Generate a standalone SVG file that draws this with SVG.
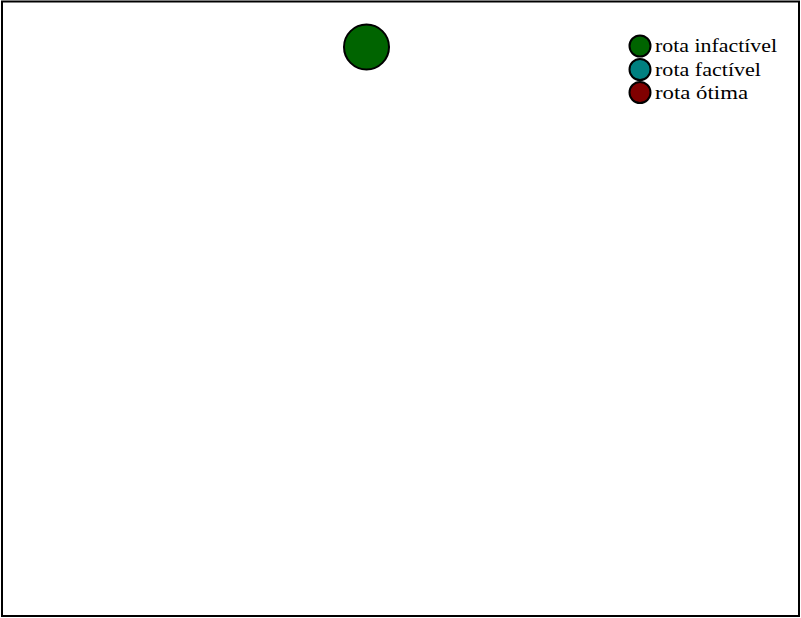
<svg xmlns="http://www.w3.org/2000/svg" width="801" height="618" viewBox="0 0 801 618">
<style>
.n{stroke:#000;stroke-width:2}
.t{font-family:"Liberation Serif","DejaVu Serif",serif;font-size:19px;fill:#000}
</style>
<rect x="0" y="0" width="801" height="618" fill="#fff"/>
<rect x="2" y="1.5" width="797" height="614.5" fill="none" stroke="#000" stroke-width="2"/>
<g id="node1"><circle class="n" cx="366.5" cy="47" r="22.5" fill="#006400"/></g>
<g id="connectors"></g>
<g id="legend">
<g id="leg1"><circle class="n" cx="640" cy="46" r="10.5" fill="#006400"/><text class="t" x="655" y="52" textLength="122" lengthAdjust="spacingAndGlyphs">rota infactível</text></g>
<g id="leg2"><circle class="n" cx="640" cy="69.5" r="10.5" fill="#008080"/><text class="t" x="655" y="75.5" textLength="106" lengthAdjust="spacingAndGlyphs">rota factível</text></g>
<g id="leg3"><circle class="n" cx="640" cy="92.5" r="10.5" fill="#800000"/><text class="t" x="655" y="98.5" textLength="93" lengthAdjust="spacingAndGlyphs">rota ótima</text></g>
</g>
</svg>
